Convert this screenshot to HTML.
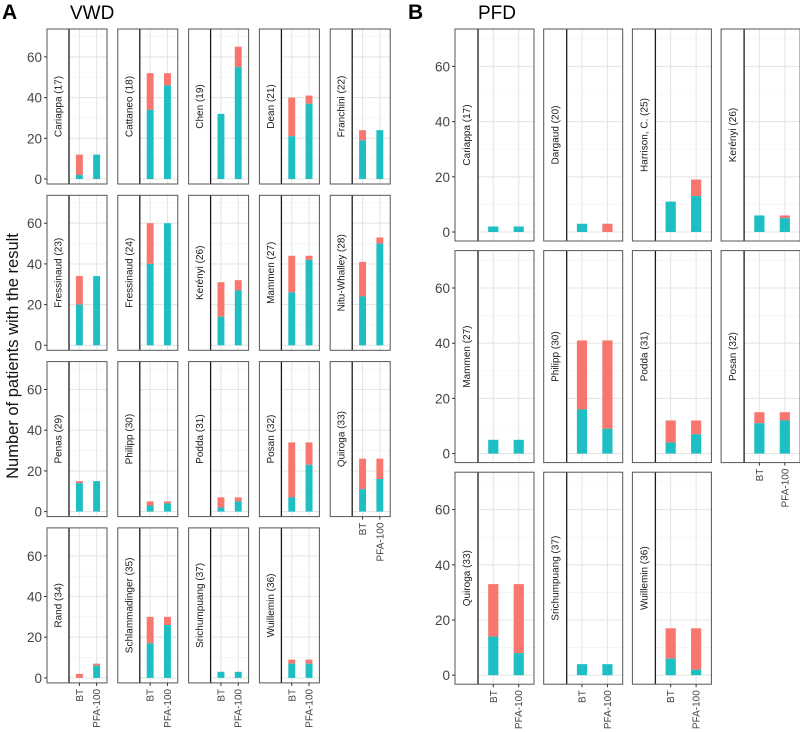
<!DOCTYPE html>
<html><head><meta charset="utf-8"><style>
body{margin:0;background:#fff}
svg{display:block;font-family:"Liberation Sans",Arial,sans-serif}
</style></head><body>
<svg id="chart" width="800" height="732" viewBox="0 0 800 732" xmlns="http://www.w3.org/2000/svg">
<text x="2" y="19" font-size="21" font-weight="bold">A</text>
<text x="70" y="19" font-size="19">VWD</text>
<text x="408" y="19" font-size="21" font-weight="bold">B</text>
<text x="478" y="19" font-size="19">PFD</text>
<text transform="translate(18,356) rotate(-90)" text-anchor="middle" font-size="16.5" fill="#111">Number of patients with the result</text>
</svg>
<script>
const categories = ["BT", "PFA-100"];
const yTicks = [0, 20, 40, 60];
const studiesA = ["Cariappa (17)","Cattaneo (18)","Chen (19)","Dean (21)","Franchini (22)","Fressinaud (23)","Fressinaud (24)","Kerényi (26)","Mammen (27)","Nitu-Whalley (28)","Penas (29)","Philipp (30)","Podda (31)","Posan (32)","Quiroga (33)","Rand (34)","Schlammadinger (35)","Srichumpuang (37)","Wuillemin (36)"];
const tealA_BT  = [2,34,32,21,19,20,40,14,26,24,14,3,2,7,11,0,17,3,7];
const totalA_BT = [12,52,32,40,24,34,60,31,44,41,15,5,7,34,26,2,30,3,9];
const tealA_PFA = [12,46,55,37,24,34,60,27,42,50,15,4,5,23,16,6,26,3,7];
const totalA_PFA= [12,52,65,41,24,34,60,32,44,53,15,5,7,34,26,7,30,3,9];
const studiesB = ["Cariappa (17)","Dargaud (20)","Harrison, C. (25)","Kerényi (26)","Mammen (27)","Philipp (30)","Podda (31)","Posan (32)","Quiroga (33)","Srichumpuang (37)","Wuillemin (36)"];
const tealB_BT  = [2,3,11,6,5,16,4,11,14,4,6];
const totalB_BT = [2,3,11,6,5,41,12,15,33,4,17];
const tealB_PFA = [2,0,13,5,5,9,7,12,8,4,2];
const totalB_PFA= [2,3,19,6,5,41,12,15,33,4,17];

const NS="http://www.w3.org/2000/svg";
const svg=document.getElementById('chart');
function mk(tag,attrs,parent){const e=document.createElementNS(NS,tag);for(const k in attrs)e.setAttribute(k,attrs[k]);(parent||svg).appendChild(e);return e;}

function drawPanel(cfg){
  const {studies,tBT,sBT,tPFA,sPFA,ncol,x0,dx,y0,dy,w,h,strip,zeroOff,pxPer,fs,prefix}=cfg;
  const n=studies.length;
  studies.forEach((name,i)=>{
    const col=i%ncol,row=Math.floor(i/ncol);
    const px=x0+col*dx, py=y0+row*dy;
    const g=mk('g',{});
    
    
    const plotX=px+strip, plotW=w-strip;
    const zeroY=py+h-zeroOff;
    const yScale=v=>zeroY-v*pxPer;
    const xScale=c=>plotX+plotW*((c+1)-0.4)/2.2;
    const bw=plotW*0.4/2.2;
    for(let v=10;v<=70;v+=20){const y=yScale(v);if(y>py)mk('line',{x1:plotX,x2:px+w,y1:y,y2:y,stroke:'#f2f2f2','stroke-width':0.6},g);}
    yTicks.forEach(v=>{const y=yScale(v);mk('line',{x1:plotX,x2:px+w,y1:y,y2:y,stroke:'#e6e6e6','stroke-width':1.1},g);});
    categories.forEach((c,k)=>{const x=xScale(k);mk('line',{x1:x,x2:x,y1:py,y2:py+h,stroke:'#e6e6e6','stroke-width':1.1},g);});
    const vals=[[tBT[i],sBT[i]],[tPFA[i],sPFA[i]]];
    vals.forEach((v,k)=>{
      const x=xScale(k)-bw/2;
      if(v[1]>v[0]){const r=mk('rect',{x:x,y:yScale(v[1]),width:bw,height:(v[1]-v[0])*pxPer,fill:'#F8766D'},g);
        
        }
      if(v[0]>0){const r=mk('rect',{x:x,y:yScale(v[0]),width:bw,height:v[0]*pxPer,fill:'#1DBFC3'},g);
        
        }
    });
    mk('line',{x1:plotX,x2:plotX,y1:py,y2:py+h,stroke:'#1a1a1a','stroke-width':1.3},g);
    mk('rect',{x:px,y:py,width:w,height:h,fill:'none',stroke:'#555','stroke-width':1},g);
    const t=mk('text',{transform:`translate(${px+strip/2+3.5},${py+h/2}) rotate(-90)`,'text-anchor':'middle','font-size':fs,fill:'#1a1a1a'},g);
    t.textContent=name;
    
    
    if(col===0){
      yTicks.forEach(v=>{const y=yScale(v);
        mk('line',{x1:px-3,x2:px,y1:y,y2:y,stroke:'#333'},g);
        const tt=mk('text',{x:px-5,y:y+5,'text-anchor':'end','font-size':13.5,fill:'#444'},g);tt.textContent=v;
        
        });
    }
    if(i+ncol>=n){
      categories.forEach((c,k)=>{const x=xScale(k);
        mk('line',{x1:x,x2:x,y1:py+h,y2:py+h+3,stroke:'#333'},g);
        const tt=mk('text',{transform:`translate(${x+3.5},${py+h+6}) rotate(-90)`,'text-anchor':'end','font-size':fs,fill:'#444'},g);tt.textContent=c;
        
        });
    }
  });
}
drawPanel({prefix:'vwd',studies:studiesA,tBT:tealA_BT,sBT:totalA_BT,tPFA:tealA_PFA,sPFA:totalA_PFA,
  ncol:5,x0:47,dx:70.8,y0:29,dy:166.3,w:60,h:155,strip:22,zeroOff:5,pxPer:2.035,fs:10});
drawPanel({prefix:'pfd',studies:studiesB,tBT:tealB_BT,sBT:totalB_BT,tPFA:tealB_PFA,sPFA:totalB_PFA,
  ncol:4,x0:455,dx:88.7,y0:29,dy:221.6,w:79,h:212,strip:23,zeroOff:9,pxPer:2.76,fs:10});
</script>
</body></html>
